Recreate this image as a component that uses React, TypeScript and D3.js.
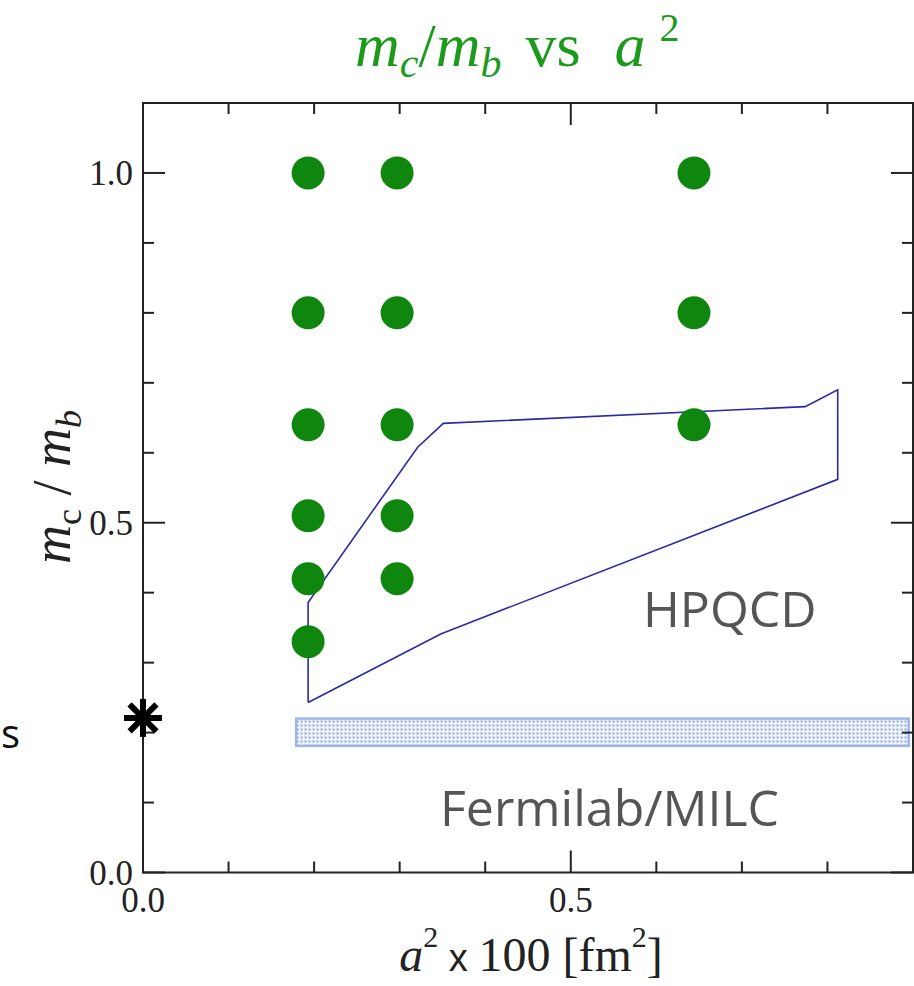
import React from "react";
import * as d3 from "d3";

// lattice spacings (a^2 x 100 fm^2) and the mass ratios simulated at each
const aSq = [0.193, 0.297, 0.644];
const ratiosFine = [1.0, 0.8, 0.64, 0.51, 0.42, 0.33];
const ratiosMedium = [1.0, 0.8, 0.64, 0.51, 0.42];
const ratiosCoarse = [1.0, 0.8, 0.64];
const ratioSets = [ratiosFine, ratiosMedium, ratiosCoarse];

// HPQCD region outline
const hpqcdX = [0.193, 0.193, 0.321, 0.351, 0.774, 0.812, 0.812, 0.348, 0.193];
const hpqcdY = [0.243, 0.386, 0.608, 0.642, 0.666, 0.69, 0.562, 0.341, 0.243];

// Fermilab/MILC band
const fnalX = [0.179, 0.895];
const fnalY = [0.181, 0.22];

// physical point
const physX = [0];
const physY = [0.221];

const xMajor = [0, 0.5];
const yMajor = [0, 0.5, 1.0];
const xMinor = [0.1, 0.2, 0.3, 0.4, 0.6, 0.7, 0.8];
const yMinor = [0.1, 0.2, 0.3, 0.4, 0.6, 0.7, 0.8, 0.9];
const xTickLabels = ["0.0", "0.5"];
const yTickLabels = ["0.0", "0.5", "1.0"];

const width = 914;
const height = 986;
const left = 143;
const right = 913;
const top = 103;
const bottom = 872.5;

const x = d3.scaleLinear().domain([0, 0.9]).range([left, right]);
const y = d3.scaleLinear().domain([0, 1.1]).range([bottom, top]);

const serif = "'Liberation Serif', 'Times New Roman', serif";
const sans = "'Open Sans', 'Noto Sans', sans-serif";
const green = "#1c9a1c";

const App = () => {
  const outline = d3
    .line<number>()
    .x((d) => x(hpqcdX[d]))
    .y((d) => y(hpqcdY[d]))(d3.range(hpqcdX.length));

  const major = 22;
  const minor = 11;
  const axis = "#222";

  return (
    <svg
      width={width}
      height={height}
      style={{ position: "absolute", left: 0, top: 0, display: "block", background: "#fff" }}
    >
      <defs>
        <pattern id="dots" width="4" height="4" patternUnits="userSpaceOnUse">
          <rect width="4" height="4" fill="#f2f5fd" />
          <rect x="0.5" y="0.5" width="2" height="2" fill="#8eaae2" />
        </pattern>
      </defs>

      {/* title */}
      <text x={355} y={66} fill={green} fontFamily={serif} fontSize={62}>
        <tspan fontStyle="italic">m</tspan>
        <tspan fontStyle="italic" fontSize={42} dy={11}>c</tspan>
        <tspan dy={-11}>/</tspan>
        <tspan fontStyle="italic">m</tspan>
        <tspan fontStyle="italic" fontSize={42} dy={11}>b</tspan>
        <tspan dy={-11} dx={24}>vs</tspan>
        <tspan fontStyle="italic" dx={34}>a</tspan>
        <tspan fontSize={40} dx={14} dy={-25}>2</tspan>
      </text>

      {/* FNAL/MILC band */}
      <rect
        x={x(fnalX[0])}
        y={y(fnalY[1])}
        width={x(fnalX[1]) - x(fnalX[0])}
        height={y(fnalY[0]) - y(fnalY[1])}
        fill="url(#dots)"
        stroke="#9db6ea"
        strokeWidth={2.5}
      />

      {/* HPQCD outline */}
      <path d={outline ?? ""} fill="none" stroke="#2a2aa8" strokeWidth={1.6} />

      {/* simulation points */}
      {aSq.map((a, i) =>
        ratioSets[i].map((r) => (
          <circle key={`${a}-${r}`} cx={x(a)} cy={y(r)} r={16.5} fill="#0f870f" />
        ))
      )}

      {/* frame */}
      <rect
        x={left}
        y={top}
        width={right - left}
        height={bottom - top}
        fill="none"
        stroke={axis}
        strokeWidth={2}
      />

      {/* ticks */}
      <g stroke={axis} strokeWidth={2}>
        {xMajor.map((t) => (
          <g key={`xM${t}`}>
            <line x1={x(t)} x2={x(t)} y1={bottom} y2={bottom - major} />
            <line x1={x(t)} x2={x(t)} y1={top} y2={top + major} />
          </g>
        ))}
        {xMinor.map((t) => (
          <g key={`xm${t}`}>
            <line x1={x(t)} x2={x(t)} y1={bottom} y2={bottom - minor} />
            <line x1={x(t)} x2={x(t)} y1={top} y2={top + minor} />
          </g>
        ))}
        {yMajor.map((t) => (
          <g key={`yM${t}`}>
            <line x1={left} x2={left + major} y1={y(t)} y2={y(t)} />
            <line x1={right} x2={right - major} y1={y(t)} y2={y(t)} />
          </g>
        ))}
        {yMinor.map((t) => (
          <g key={`ym${t}`}>
            <line x1={left} x2={left + minor} y1={y(t)} y2={y(t)} />
            <line x1={right} x2={right - minor} y1={y(t)} y2={y(t)} />
          </g>
        ))}
      </g>

      {/* physical point */}
      <g stroke="#000" strokeWidth={6}>
        {[0, 45, 90, 135].map((ang) => {
          const rad = (ang * Math.PI) / 180;
          const cx = x(physX[0]);
          const cy = y(physY[0]);
          const len = 19;
          return (
            <line
              key={ang}
              x1={cx - len * Math.cos(rad)}
              y1={cy - len * Math.sin(rad)}
              x2={cx + len * Math.cos(rad)}
              y2={cy + len * Math.sin(rad)}
            />
          );
        })}
      </g>
      <text x={1} y={748} fontFamily={sans} fontSize={40} fill="#111">
        s
      </text>

      {/* tick labels */}
      <g fontFamily={serif} fontSize={35} fill="#222">
        {xMajor.map((t, i) => (
          <text key={`xl${t}`} x={x(t)} y={912} textAnchor="middle">
            {xTickLabels[i]}
          </text>
        ))}
        {yMajor.map((t, i) => (
          <text key={`yl${t}`} x={133} y={y(t) + 12} textAnchor="end">
            {yTickLabels[i]}
          </text>
        ))}
      </g>

      {/* axis titles */}
      <text x={531} y={971} textAnchor="middle" fontFamily={serif} fontSize={48} fill="#222">
        <tspan fontStyle="italic">a</tspan>
        <tspan fontSize={30} dy={-24}>2</tspan>
        <tspan dy={24} fontFamily="'Liberation Sans', Arial, sans-serif" fontSize={38}> x </tspan>
        <tspan>100 [fm</tspan>
        <tspan fontSize={30} dy={-24}>2</tspan>
        <tspan dy={24}>]</tspan>
      </text>
      <text
        transform="translate(70,487) rotate(-90)"
        textAnchor="middle"
        fontFamily={serif}
        fontSize={54}
        fill="#222"
      >
        <tspan fontStyle="italic">m</tspan>
        <tspan fontSize={36} dy={11}>c</tspan>
        <tspan dy={-11}> / </tspan>
        <tspan fontStyle="italic">m</tspan>
        <tspan fontStyle="italic" fontSize={36} dy={11}>b</tspan>
      </text>

      {/* group labels */}
      <g fontFamily={sans} fontSize={50} fill="#555">
        <text x={643} y={627}>HPQCD</text>
        <text x={440} y={826}>Fermilab/MILC</text>
      </g>
    </svg>
  );
};

export default App;
